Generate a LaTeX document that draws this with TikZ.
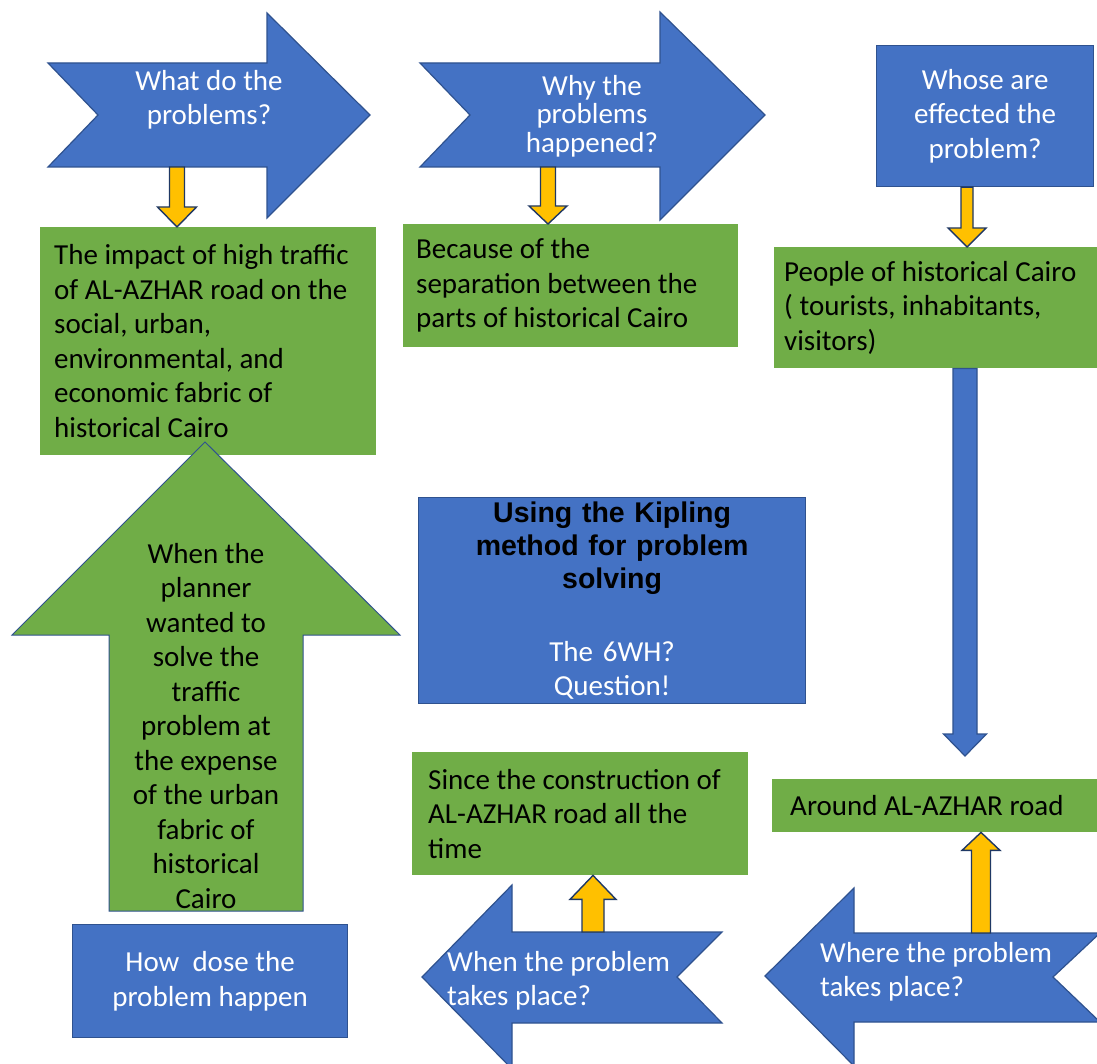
\documentclass[tikz,border=0pt]{standalone}
\usepackage{fontspec}
\setmainfont{Carlito}
\newfontfamily\arialfont{Liberation Sans}
\usetikzlibrary{calc}

\definecolor{officeblue}{HTML}{4472C4}
\definecolor{officegreen}{HTML}{70AD47}
\definecolor{officeyellow}{HTML}{FFC000}
\definecolor{blueline}{HTML}{2F528F}
\definecolor{navyline}{HTML}{1F3864}

% block arrow: style, from, to, half shaft, half head, head length
\newcommand{\blockarrow}[6]{%
  \coordinate (ba-neck) at ($(#3)!#6!(#2)$);
  \draw[#1] ($(#2)!#4!90:(#3)$) -- ($(ba-neck)!#4!90:(#3)$)
    -- ($(ba-neck)!#5!90:(#3)$) -- (#3)
    -- ($(ba-neck)!#5!-90:(#3)$) -- ($(ba-neck)!#4!-90:(#3)$)
    -- ($(#2)!#4!-90:(#3)$) -- cycle;
}

\tikzset{
  blueshape/.style={fill=officeblue, draw=blueline, line width=1.2pt},
  greenshape/.style={fill=officegreen, draw=blueline, line width=1pt},
  yarrow/.style={fill=officeyellow, draw=navyline, line width=1.4pt},
  gbox/.style={fill=officegreen, text=black, align=flush left, anchor=north west,
    inner xsep=14pt, inner ysep=0pt},
  bbox/.style={blueshape, text=white, align=center, anchor=north west, inner sep=0pt},
  arrowtext/.style={text=white, align=center, inner sep=0pt}
}

\begin{document}
\begin{tikzpicture}[x=1pt, y=-1pt, font=\fontsize{29}{34.5}\selectfont]
    \useasboundingbox (0,0) rectangle (1097,1064);
    \fill[white] (0,0) rectangle (1097,1064);

    % notched arrows along the top
    \draw[blueshape] (48,63) -- (267,63) -- (267,13) -- (370,115) -- (267,218)
        -- (267,167) -- (48,167) -- (98,115) -- cycle;
    \node[arrowtext] (what) at (209,100) {What do the\\problems?};
    \draw[blueshape] (420,63) -- (660,63) -- (660,12) -- (765,115) -- (660,220)
        -- (660,167) -- (420,167) -- (470,115) -- cycle;
    \node[arrowtext, font=\fontsize{29}{28.5}\selectfont] (why) at (592,116)
        {Why the\\problems\\happened?};
    \node[bbox, minimum width=217, minimum height=141] (whose) at (876,45)
        {Whose are\\effected the\\problem?};

    % answer boxes
    \node[gbox, text width=308, minimum height=228] (impact) at (40,227)
        {The impact of high traffic\\of AL-AZHAR road on the\\social, urban,\\environmental, and\\economic fabric of\\historical Cairo};
    \node[gbox, inner xsep=13pt, text width=309, minimum height=123] (because) at (403,224)
        {Because of the\\separation between the\\parts of historical Cairo};
    \node[gbox, inner xsep=10pt, text width=303, minimum height=121] (people) at (774,247)
        {People of historical Cairo\\( tourists, inhabitants,\\visitors)};
    \node[gbox, inner xsep=18pt, text width=289, minimum height=53] (around) at (772,779)
        {Around AL-AZHAR road};
    \node[gbox, inner xsep=16pt, text width=304, minimum height=123] (since) at (412,752)
        {Since the construction of\\AL-AZHAR road all the\\time};

    % centre box
    \node[bbox, minimum width=387, minimum height=206, text width=380] (kipling) at (418,497)
        {{\arialfont\bfseries\fontsize{28.5}{33}\selectfont\color{black}Using the Kipling\\method for problem\\solving\par}
        \vspace{38pt}The 6WH?\\Question!};

    % big green up arrow
    \draw[greenshape] (205,442) -- (400,635) -- (303,635) -- (303,911) -- (109,911)
        -- (109,635) -- (12,635) -- cycle;
    \node[align=center, inner sep=0pt] (planner) at (206,726)
        {When the\\planner\\wanted to\\solve the\\traffic\\problem at\\the expense\\of the urban\\fabric of\\historical\\Cairo};
    \node[bbox, minimum width=275, minimum height=113] (how) at (72,924)
        {How\ \ dose the\\problem happen};

    % notched arrows along the bottom
    \draw[blueshape] (422,977) -- (512,885) -- (512,932) -- (722,932) -- (677,977)
        -- (722,1023) -- (512,1023) -- (512,1069) -- cycle;
    \node[arrowtext, align=left, anchor=west] (when) at (447,981)
        {When the problem\\takes place?};
    \draw[blueshape] (765,976) -- (854,888) -- (854,933) -- (1100,933) -- (1053,977)
        -- (1100,1022) -- (854,1022) -- (854,1066) -- cycle;
    \node[arrowtext, align=left, anchor=west] (where) at (820,972)
        {Where the problem\\takes place?};

    % connectors
    \coordinate (what-foot) at (177,167);
    \coordinate (what-tip) at (what-foot |- impact.north);
    \blockarrow{yarrow}{what-foot}{what-tip}{7.5pt}{19.5pt}{20pt}
    \coordinate (why-foot) at (548,167);
    \coordinate (why-tip) at (why-foot |- because.north);
    \blockarrow{yarrow}{why-foot}{why-tip}{7.5pt}{19pt}{18pt}
    \coordinate (col3) at (967,0);
    \coordinate (whose-foot) at (col3 |- whose.south);
    \coordinate (whose-tip) at (col3 |- people.north);
    \blockarrow{yarrow}{whose-foot}{whose-tip}{6pt}{19pt}{19pt}
    \coordinate (col4) at (965,0);
    \coordinate (people-foot) at (col4 |- people.south);
    \coordinate (around-top) at ($(col4 |- around.north)+(0,-23)$);
    \blockarrow{blueshape}{people-foot}{around-top}{12pt}{21.5pt}{22pt}
    \coordinate (where-top) at (981,933);
    \coordinate (around-foot) at (where-top |- around.south);
    \blockarrow{yarrow}{where-top}{around-foot}{9.5pt}{19pt}{18pt}
    \coordinate (when-top) at (593,932);
    \coordinate (since-foot) at (when-top |- since.south);
    \blockarrow{yarrow}{when-top}{since-foot}{11pt}{23pt}{24pt}
\end{tikzpicture}
\end{document}
